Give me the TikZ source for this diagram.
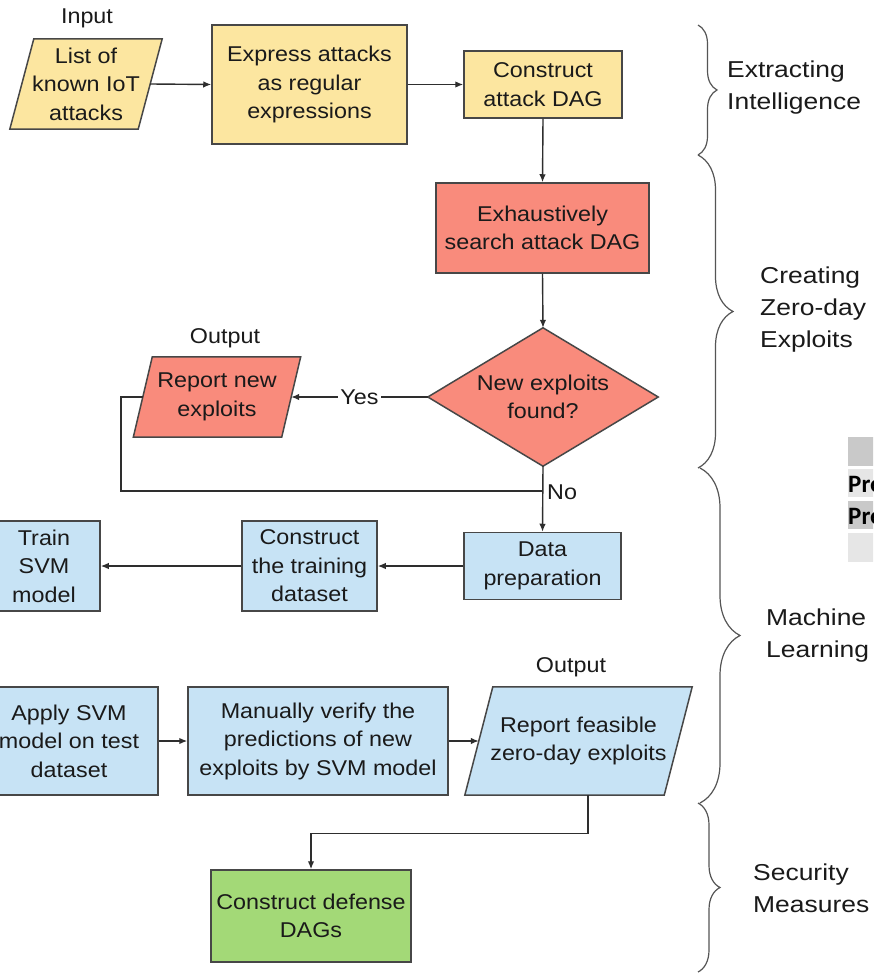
\documentclass[tikz,border=0pt]{standalone}
\usepackage{fontspec}
\setmainfont{Liberation Sans}
\newfontfamily\mainf[FakeStretch=1.09]{Liberation Sans}
\newfontfamily\labf[FakeStretch=1.15]{Liberation Sans}
\newfontfamily\tabf{Carlito}
\usetikzlibrary{arrows.meta,decorations.pathreplacing,backgrounds}
\definecolor{cyel}{HTML}{FCE6A0}
\definecolor{cred}{HTML}{F98B7C}
\definecolor{cblu}{HTML}{C7E3F5}
\definecolor{cgrn}{HTML}{A3D977}
\definecolor{cbord}{HTML}{474747}
\definecolor{cline}{HTML}{2E2E2E}
\definecolor{ctxt}{HTML}{1A1A1A}
\definecolor{cbrace}{HTML}{555555}
\definecolor{tabdark}{HTML}{C9C9C9}
\definecolor{tablight}{HTML}{E6E6E6}
\tikzset{
  txt/.style={font=\mainf\fontsize{21.4}{28.5}\selectfont, text=ctxt, align=center, inner sep=0pt},
  procbox/.style={txt, draw=cbord, line width=1.5pt, fill=#1},
  conn/.style={draw=cline, line width=1.4pt},
  arr/.style={conn, -{Latex[length=8pt,width=6.5pt]}},
  grp/.style={font=\labf\fontsize{23}{32}\selectfont, text=ctxt, align=left, inner sep=0pt, anchor=west},
  brc/.style={draw=cbrace, line width=1.2pt, decorate, decoration={brace, amplitude=#1}},
  paraf/.style={fill=#1, draw=cbord, line width=1.5pt, line join=miter},
  tabtxt/.style={font=\tabf\bfseries\fontsize{25}{28}\selectfont, text=black, anchor=west, inner sep=0pt},
}
\begin{document}
\begin{tikzpicture}[x=1pt,y=-1pt]
\useasboundingbox (0,0) rectangle (873,973);
\clip (0,0) rectangle (873,973);

% nodes
\node[txt] (inlbl) at (87,18) {Input};
\node[txt, minimum width=128pt, minimum height=90pt] (listiot) at (86,84) {List of\\known IoT\\attacks};
\node[procbox=cyel, minimum width=195pt, minimum height=119pt] (express) at (309.5,84.5) {Express attacks\\as regular\\expressions};
\node[procbox=cyel, minimum width=158pt, minimum height=67pt] (cdag) at (543,84.5) {Construct\\attack DAG};
\node[procbox=cred, minimum width=213pt, minimum height=90pt] (exhaust) at (542.5,228) {Exhaustively\\search attack DAG};
\node[txt, minimum width=230pt, minimum height=138pt] (dia) at (543,397) {New exploits\\found?};
\node[txt] (outlbl1) at (225,338) {Output};
\node[txt, minimum width=148pt, minimum height=80pt] (repnew) at (217,397) {Report new\\exploits};
\coordinate (junc) at (543,491);
\node[procbox=cblu, minimum width=157pt, minimum height=67pt] (dataprep) at (542.5,566) {Data\\preparation};
\node[procbox=cblu, minimum width=135pt, minimum height=90pt] (trainset) at (309.5,566) {Construct\\the training\\dataset};
\node[procbox=cblu, minimum width=112pt, minimum height=90pt] (trainsvm) at (44,566) {Train\\SVM\\model};
\node[txt] (outlbl2) at (571,667) {Output};
\node[procbox=cblu, minimum width=178pt, minimum height=108pt] (applysvm) at (69,741) {Apply SVM\\model on test\\dataset};
\node[procbox=cblu, minimum width=260pt, minimum height=108pt] (verify) at (318,741) {Manually verify the\\predictions of new\\exploits by SVM model};
\node[txt, minimum width=199pt, minimum height=108pt] (repfeas) at (578.5,741) {Report feasible\\zero-day exploits};
\node[procbox=cgrn, minimum width=200pt, minimum height=92pt] (defense) at (311,916) {Construct defense\\DAGs};

% shapes drawn behind text
\begin{scope}[on background layer]
\fill[white] (0,0) rectangle (873,973);
\draw[paraf=cyel] ([xshift=12pt]listiot.north west) -- ([xshift=12pt]listiot.north east) -- ([xshift=-12pt]listiot.south east) -- ([xshift=-12pt]listiot.south west) -- cycle;
\draw[paraf=cred] (dia.west) -- (dia.north) -- (dia.east) -- (dia.south) -- cycle;
\draw[paraf=cred] ([xshift=9.5pt]repnew.north west) -- ([xshift=9.5pt]repnew.north east) -- ([xshift=-9.5pt]repnew.south east) -- ([xshift=-9.5pt]repnew.south west) -- cycle;
\draw[paraf=cblu] ([xshift=14pt]repfeas.north west) -- ([xshift=14pt]repfeas.north east) -- ([xshift=-14pt]repfeas.south east) -- ([xshift=-14pt]repfeas.south west) -- cycle;
\end{scope}

% connectors
\draw[arr] (listiot.east) -- (express.west);
\draw[arr] (express.east) -- (cdag.west);
\draw[arr] (cdag.south) -- (exhaust.north);
\draw[arr] (exhaust.south) -- (dia.north);
\draw[arr] (dia.west) -- node[txt, fill=white, inner xsep=2pt, inner ysep=1pt] (yes) {Yes} (repnew.east);
\draw[conn] (repnew.west) -- ++(-22,0) |- (junc);
\draw[arr] (dia.south) -- (dataprep.north);
\node[txt, anchor=west] (nolbl) at (547,492) {No};
\draw[arr] (dataprep.west) -- (trainset.east);
\draw[arr] (trainset.west) -- (trainsvm.east);
\draw[arr] (applysvm.east) -- (verify.west);
\draw[arr] (verify.east) -- (repfeas.west);
\draw[arr] ([xshift=9.5pt]repfeas.south) -- ++(0,38) -| (defense.north);

% braces
\draw[brc=19pt] (698,25) -- (698,155);
\draw[brc=35pt] (698,155) -- (698,468);
\draw[brc=40pt] (700,468) -- (700,803);
\draw[brc=22pt] (698,803) -- (698,972);

% group labels
\node[grp] (g1) at (727,88) {Extracting\\Intelligence};
\node[grp] (g2) at (760,310) {Creating\\Zero-day\\Exploits};
\node[grp] (g3) at (766,636) {Machine\\Learning};
\node[grp] (g4) at (753,888) {Security\\Measures};

% table fragment at the right edge
\fill[tabdark] (848,437) rectangle (880,466);
\fill[tablight] (848,469) rectangle (880,497);
\fill[tabdark] (848,501) rectangle (880,529);
\fill[tablight] (848,533) rectangle (880,562);
\node[tabtxt] (pr1) at (848,484) {Predicted};
\node[tabtxt] (pr2) at (848,516) {Predicted};
\end{tikzpicture}
\end{document}
